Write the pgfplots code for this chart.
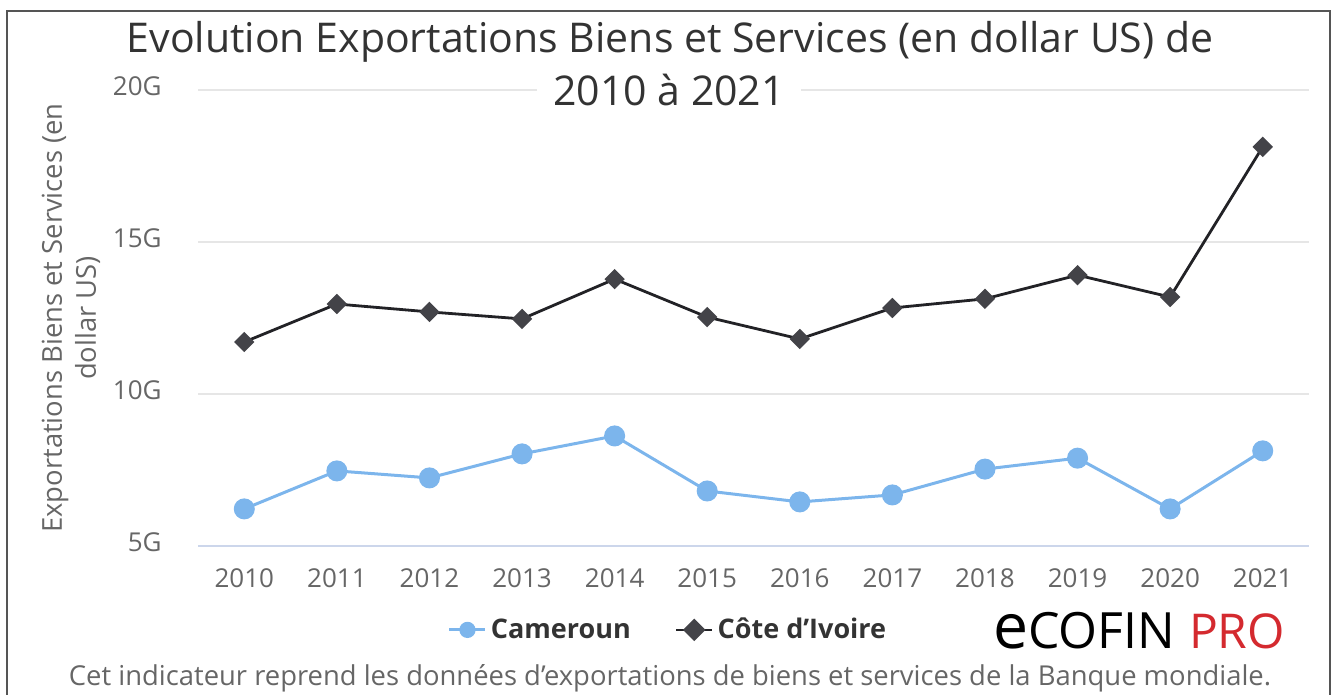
\documentclass[border=0pt]{standalone}
\usepackage{pgfplots}
\pgfplotsset{compat=1.18}
\usepackage{fontspec}
\setmainfont{Open Sans}
\definecolor{cam}{HTML}{7CB5EC}
\definecolor{civ}{HTML}{434348}
\definecolor{civline}{HTML}{222226}
\definecolor{txt}{HTML}{333333}
\definecolor{lbl}{HTML}{666666}
\definecolor{grd}{HTML}{E6E6E6}
\definecolor{axl}{HTML}{CCD6EB}
\definecolor{pro}{HTML}{D42A2F}
\definecolor{frame}{HTML}{555555}
\begin{document}
\begin{tikzpicture}
\path[use as bounding box] (-99pt,-74.5pt) rectangle (567pt,273pt);
\draw[frame, line width=1pt] (-95.5pt,-74.5pt) -- (-95.5pt,267.5pt) -- (566pt,267.5pt) -- (566pt,-74.5pt);
\begin{axis}[
  at={(0pt,0pt)}, anchor=south west,
  scale only axis, width=555.5pt, height=228pt,
  xmin=-0.5, xmax=11.5, ymin=5, ymax=20,
  xtick={0,1,2,3,4,5,6,7,8,9,10,11},
  xticklabels={2010,2011,2012,2013,2014,2015,2016,2017,2018,2019,2020,2021},
  ytick={5,10,15,20},
  yticklabel={\pgfmathprintnumber{\tick}G},
  ymajorgrids, grid style={grd, line width=0.7pt},
  axis line style={draw=none},
  major tick length=0pt,
  tick label style={font=\fontsize{13}{15}\selectfont, text=lbl},
  /pgf/number format/assume math mode=true,
  xticklabel style={anchor=base, inner sep=0pt, yshift=-20.5pt},
  yticklabel style={anchor=mid east, inner sep=0pt, xshift=-18pt},
  clip=false,
  legend style={at={(0.424,-0.184)}, anchor=center, draw=none, fill=none,
    font=\fontsize{13.5}{15}\selectfont\bfseries, text=txt,
    /tikz/every even column/.append style={column sep=20pt}},
  legend columns=2,
  legend cell align=left,
  legend image code/.code={\draw[mark repeat=2,mark phase=2,mark size=3.3pt] plot coordinates {(0pt,0pt) (9pt,0pt) (18pt,0pt)};},
]
\draw[axl, line width=1pt] (axis cs:-0.5,5) -- (axis cs:11.5,5);
\addplot[cam, line width=1.5pt, mark=*, mark size=4.5pt] coordinates {
(0,6.22) (1,7.47) (2,7.24) (3,8.03) (4,8.62) (5,6.81) (6,6.45) (7,6.68) (8,7.53) (9,7.89) (10,6.22) (11,8.13)};
\addlegendentry{Cameroun}
\addplot[civline, line width=1.4pt, mark=square*, mark size=2.9pt, mark options={rotate=45, fill=civ, draw=civ}] coordinates {
(0,11.71) (1,12.96) (2,12.70) (3,12.47) (4,13.78) (5,12.53) (6,11.81) (7,12.83) (8,13.13) (9,13.91) (10,13.19) (11,18.13)};
\addlegendentry{Côte d'Ivoire}
\end{axis}
\node[fill=white, inner xsep=8pt, inner ysep=1pt, text=txt, font=\fontsize{20.5}{24}\selectfont] at (236pt,252pt) {Evolution Exportations Biens et Services (en dollar US) de};
\node[fill=white, inner xsep=8pt, inner ysep=1pt, text=txt, font=\fontsize{20.5}{24}\selectfont] at (235.5pt,228pt) {2010 à 2021};
\node[rotate=90, align=center, text=lbl, font=\fontsize{13.7}{17}\selectfont] at (-63.5pt,114pt) {Exportations Biens et Services (en\\dollar US)};
\node[text=lbl, font=\fontsize{13.7}{15}\selectfont] at (236pt,-66pt) {Cet indicateur reprend les données d’exportations de biens et services de la Banque mondiale.};
\node[inner sep=0pt, font=\fontsize{25}{25}\selectfont] at (443pt,-42.5pt) {\scalebox{1.25}{e}COFIN};
\node[inner sep=0pt, text=pro, font=\fontsize{24}{24}\selectfont] at (519.5pt,-42.5pt) {PRO};
\end{tikzpicture}
\end{document}
